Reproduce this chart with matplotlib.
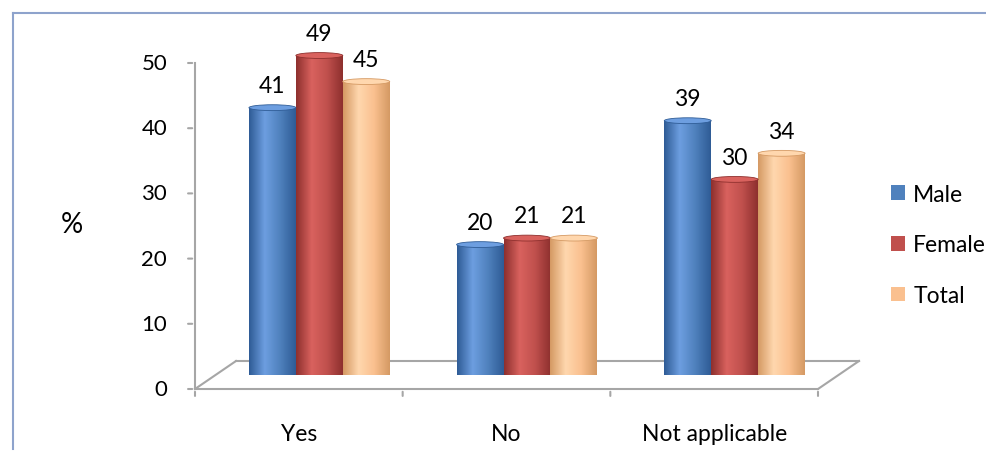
import numpy as np
import matplotlib
matplotlib.use("Agg")
import matplotlib.pyplot as plt
import matplotlib.transforms as mtransforms
from matplotlib.patches import Rectangle, Ellipse
from matplotlib.lines import Line2D
from matplotlib.colors import LinearSegmentedColormap

plt.rcParams['font.family'] = ['Lato', 'DejaVu Sans']

# data
categories = ['Yes', 'No', 'Not applicable']
series = ['Male', 'Female', 'Total']
male = [41, 20, 39]
female = [49, 21, 30]
total = [45, 21, 34]
yticks = [0, 10, 20, 30, 40, 50]

# colours (base, dark edge, light highlight)
colors = {
    'Male': ('#4F81BD', '#2F5C96', '#6D9EE0'),
    'Female': ('#C0504D', '#8E302E', '#D9625E'),
    'Total': ('#FAC08F', '#D59A64', '#FFD7AE'),
}
fs = 16.5

fig = plt.figure(figsize=(9.87, 4.77), dpi=100)
ax = fig.add_axes([195 / 987, 87 / 477, 623 / 987, 326 / 477])
ax.set_xlim(0, 3)
ax.set_ylim(0, 50)
for s in ax.spines.values():
    s.set_visible(False)
ax.set_xticks([])
ax.set_yticks([])
ax.patch.set_alpha(0)

# 3D depth offsets (floor back edge, bars at half depth)
back = ax.transData + mtransforms.ScaledTranslation(0.41, 0.28, fig.dpi_scale_trans)
mid = ax.transData + mtransforms.ScaledTranslation(0.205, 0.14, fig.dpi_scale_trans)

axis_col = '#A6A6A6'
# floor
ax.plot([0, 3], [0, 0], color=axis_col, lw=1.5, clip_on=False, zorder=0.5)
ax.plot([0, 3], [0, 0], color=axis_col, lw=1.5, clip_on=False, transform=back, zorder=0.5)
for xx in [0, 3]:
    p0 = ax.transData.transform((xx, 0))
    p1 = back.transform((xx, 0))
    ax.add_line(Line2D([p0[0], p1[0]], [p0[1], p1[1]], color=axis_col, lw=1.5,
                       transform=None, clip_on=False, zorder=0.5))
# y axis
ax.plot([0, 0], [0, 50], color=axis_col, lw=1.5, clip_on=False, zorder=0.5)
for t in yticks:
    ax.annotate('', xy=(0, t), xytext=(-7, 0), textcoords='offset points',
                arrowprops=dict(arrowstyle='-', color=axis_col, lw=1.5))
    ax.annotate(str(t), xy=(0, t), xytext=(-20, 0), textcoords='offset points',
                ha='right', va='center', fontsize=16)
# x ticks
for xx in range(4):
    ax.annotate('', xy=(xx, 0), xytext=(0, -7), textcoords='offset points',
                arrowprops=dict(arrowstyle='-', color=axis_col, lw=1.5))
for i, c in enumerate(categories):
    ax.annotate(c, xy=(i + 0.5, 0), xytext=(0, -32), textcoords='offset points',
                ha='center', va='center', fontsize=fs)

fig.text(72 / 987, 1 - 225 / 477, '%', fontsize=20, ha='center', va='center')

# cylinder bars
width = 0.226
offsets = [-width, 0, width]
vals = [male, female, total]
for j, name in enumerate(series):
    base, dark, light = colors[name]
    cmap = LinearSegmentedColormap.from_list(name, [dark, light, base, dark])
    grad = np.linspace(0, 1, 64).reshape(1, -1)
    for i, v in enumerate(vals[j]):
        x0 = i + 0.5 + offsets[j] - width / 2
        rect = Rectangle((x0, 0), width, v, transform=mid, facecolor='none',
                         edgecolor='none', clip_on=False)
        ax.add_patch(rect)
        im = ax.imshow(grad, cmap=cmap, aspect='auto', extent=(x0, x0 + width, 0, v),
                       transform=mid, interpolation='bilinear', zorder=2)
        im.set_clip_path(rect)
        top = Ellipse((x0 + width / 2, v), width, 0.9, transform=mid,
                      facecolor=light, edgecolor=dark, lw=0.6, clip_on=False, zorder=3)
        ax.add_patch(top)
        ax.annotate(str(v), xy=(x0 + width / 2, v), xytext=(0, 16),
                    textcoords='offset points', xycoords=mid,
                    ha='center', va='center', fontsize=fs)
ax.set_xlim(0, 3)
ax.set_ylim(0, 50)

# legend
handles = [Rectangle((0, 0), 1, 1, facecolor=colors[n][0]) for n in series]
ax.legend(handles, series, loc='center left', bbox_to_anchor=(880 / 987, 1 - 246 / 477),
          bbox_transform=fig.transFigure, frameon=False, fontsize=fs,
          handlelength=0.6, handleheight=0.6, handletextpad=0.35, labelspacing=1.3,
          borderpad=0)

# outer frame
frame_col = '#8EA3CC'
fig.add_artist(Line2D([13 / 987, 1], [1 - 14 / 477, 1 - 14 / 477], color=frame_col, lw=1.5))
fig.add_artist(Line2D([13 / 987, 13 / 987], [1 - 14 / 477, 1 - 450 / 477], color=frame_col, lw=1.5))

fig.savefig('out.png', dpi=100)
